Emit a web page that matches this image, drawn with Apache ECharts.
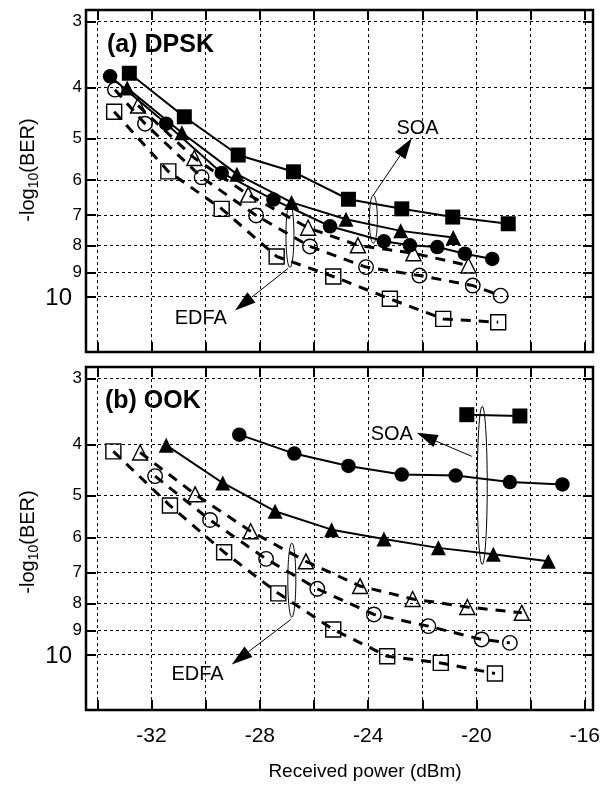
<!DOCTYPE html>
<html><head><meta charset="utf-8">
<script src="https://cdn.jsdelivr.net/npm/echarts@6/dist/echarts.min.js"></script>
<style>html,body{margin:0;padding:0;background:#fff}#c{width:607px;height:795px}</style>
</head><body><div id="c"></div><script>
// ---- data ----
const xTicks = [-34,-32,-30,-28,-26,-24,-22,-20,-18,-16];
const xLabels = [-32,-28,-24,-20,-16];
const yTicks = [3,4,5,6,7,8,9,10];

// (a) DPSK
const dpskSoaSq = [[-32.82,3.76],[-30.79,4.55],[-28.80,5.38],[-26.76,5.79],[-24.73,6.53],[-22.76,6.81],[-20.88,7.06],[-18.83,7.27]];
const dpskSoaCi = [[-33.53,3.81],[-31.46,4.69],[-29.41,5.82],[-27.50,6.54],[-25.41,7.35],[-23.42,7.85],[-22.46,7.99],[-21.45,8.05],[-20.43,8.29],[-19.42,8.48]];
const dpskSoaTr = [[-32.90,4.01],[-30.88,4.88],[-28.85,5.85],[-26.83,6.62],[-24.82,7.13],[-22.80,7.50],[-20.86,7.72]];
const dpskEdfaCi = [[-33.35,4.04],[-32.24,4.69],[-30.15,5.93],[-28.14,7.01],[-26.15,8.03],[-24.08,8.79],[-22.11,9.12],[-20.14,9.53],[-19.11,9.96]];
const dpskEdfaTr = [[-32.50,4.33],[-30.42,5.45],[-28.43,6.40],[-26.22,7.40],[-24.38,7.99],[-22.33,8.27],[-20.30,8.73]];
const dpskEdfaSq = [[-33.38,4.45],[-31.38,5.78],[-29.41,6.81],[-27.38,8.39],[-25.29,9.16],[-23.20,10.10],[-21.23,11.03],[-19.20,11.19]];

// (b) OOK
const ookSoaSq = [[-20.36,3.51],[-18.40,3.53]];
const ookSoaCi = [[-28.76,3.83],[-26.73,4.16],[-24.73,4.39],[-22.76,4.56],[-20.77,4.58],[-18.77,4.71],[-16.83,4.76]];
const ookSoaTr = [[-31.46,4.01],[-29.37,4.73],[-27.44,5.35],[-25.35,5.80],[-23.42,6.04],[-21.41,6.28],[-19.38,6.46],[-17.35,6.66]];
const ookEdfaTr = [[-32.42,4.14],[-30.39,4.97],[-28.34,5.84],[-26.30,6.66],[-24.30,7.42],[-22.36,7.85],[-20.34,8.13],[-18.33,8.34]];
const ookEdfaCi = [[-31.87,4.59],[-29.84,5.56],[-27.77,6.59],[-25.88,7.51],[-23.79,8.40],[-21.78,8.84],[-19.81,9.37],[-18.77,9.51]];
const ookEdfaSq = [[-33.41,4.12],[-31.32,5.22],[-29.32,6.40],[-27.32,7.66],[-25.29,8.97],[-23.30,10.08],[-21.32,10.38],[-19.32,10.87]];

// ---- layout ----
const X_MIN = -34.42, X_MAX = -15.70;
const Y_MIN = 2.85, Y_MAX = 12.75;
const FF = "'Liberation Sans', Arial, Helvetica, sans-serif";

function xAx(gi, pos, labels) {
  return {
    type: 'value', gridIndex: gi, position: pos, min: X_MIN, max: X_MAX,
    axisLine: {show: false},
    axisTick: {show: true, inside: true, length: 10, lineStyle: {color: '#000', width: 2}, customValues: xTicks},
    axisLabel: labels ? {show: true, customValues: xLabels, margin: 16, color: '#000', fontSize: 21, fontFamily: FF,
      formatter: v => String(Math.round(v))} : {show: false},
    splitLine: pos === 'bottom' ? {show: true, lineStyle: {color: '#000', width: 1, type: [3, 3]}} : {show: false}
  };
}
function yAx(gi, pos, labels) {
  return {
    type: 'log', logBase: 10, gridIndex: gi, position: pos, inverse: true, min: Y_MIN, max: Y_MAX,
    axisLine: {show: false},
    axisTick: {show: true, inside: true, length: 10, lineStyle: {color: '#000', width: 2}, customValues: yTicks},
    axisLabel: labels ? {show: true, customValues: yTicks, margin: 4, color: '#000', fontSize: 17, fontFamily: FF,
      formatter: v => { const r = Math.round(v); return r === 10 ? '{t|10}' : String(r); },
      rich: {t: {fontSize: 24, fontFamily: FF, color: '#000', padding: [4, 10, 0, 0]}}} : {show: false},
    splitLine: pos === 'left' ? {show: true, lineStyle: {color: '#000', width: 1, type: [3, 3]}} : {show: false},
    minorTick: {show: false}, minorSplitLine: {show: false}
  };
}
function ser(data, xi, yi, sym, filled, dashed) {
  const size = sym === 'triangle' ? 15 : (sym === 'rect' ? 15 : 14.5);
  return {
    type: 'line', xAxisIndex: xi, yAxisIndex: yi, data: data,
    symbol: sym, symbolSize: size, showSymbol: true, showAllSymbol: true,
    lineStyle: dashed ? {color: '#000', width: 3, type: [10, 8]} : {color: '#000', width: 2},
    itemStyle: filled ? {color: '#000', borderColor: '#000', borderWidth: 0}
                      : {color: 'rgba(255,255,255,0)', borderColor: '#000', borderWidth: 1.4},
    emphasis: {disabled: true}, silent: true, animation: false
  };
}

const chart = echarts.init(document.getElementById('c'), null, {renderer: 'canvas'});
chart.setOption({
  animation: false,
  backgroundColor: '#fff',
  grid: [
    {left: 86, top: 10, width: 507, height: 342, show: true, borderColor: '#000', borderWidth: 2.5, backgroundColor: 'rgba(0,0,0,0)'},
    {left: 86, top: 367, width: 507, height: 343, show: true, borderColor: '#000', borderWidth: 2.5, backgroundColor: 'rgba(0,0,0,0)'}
  ],
  xAxis: [xAx(0, 'bottom', false), xAx(0, 'top', false), xAx(1, 'bottom', true), xAx(1, 'top', false)],
  yAxis: [yAx(0, 'left', true), yAx(0, 'right', false), yAx(1, 'left', true), yAx(1, 'right', false)],
  series: [
    ser(dpskEdfaSq, 0, 0, 'rect', false, true),
    ser(dpskEdfaCi, 0, 0, 'circle', false, true),
    ser(dpskEdfaTr, 0, 0, 'triangle', false, true),
    ser(dpskSoaSq, 0, 0, 'rect', true, false),
    ser(dpskSoaTr, 0, 0, 'triangle', true, false),
    ser(dpskSoaCi, 0, 0, 'circle', true, false),
    ser(ookEdfaSq, 2, 2, 'rect', false, true),
    ser(ookEdfaCi, 2, 2, 'circle', false, true),
    ser(ookEdfaTr, 2, 2, 'triangle', false, true),
    ser(ookSoaSq, 2, 2, 'rect', true, false),
    ser(ookSoaCi, 2, 2, 'circle', true, false),
    ser(ookSoaTr, 2, 2, 'triangle', true, false)
  ]
});

// ---- annotations (in data coordinates) ----
const annA = {soaEll: [-23.81, 7.13], soaR: [4, 24], soaArrow: [[-23.82, 6.42], [-22.39, 5.00]], soaText: [-22.18, 4.78],
              edfaEll: [-26.89, 7.65], edfaR: [4, 32], edfaArrow: [[-26.96, 8.84], [-28.92, 10.63]], edfaText: [-30.18, 11.01]};
const annB = {soaEll: [-19.79, 4.78], soaR: [5, 79], soaArrow: [[-20.18, 4.21], [-22.21, 3.80]], soaText: [-23.13, 3.83],
              edfaEll: [-26.82, 7.23], edfaR: [4, 37], edfaArrow: [[-26.86, 8.59], [-29.04, 10.45]], edfaText: [-30.30, 10.92]};

function txt(text, x, y, font, align) {
  return {type: 'text', z: 100, style: {text: text, x: x, y: y, font: font, fill: '#000',
    align: align || 'center', verticalAlign: 'middle', textAlign: align || 'center', textVerticalAlign: 'middle'}};
}
function arrow(p0, p1) {
  const dx = p1[0] - p0[0], dy = p1[1] - p0[1];
  const len = Math.sqrt(dx * dx + dy * dy);
  const ux = dx / len, uy = dy / len, nx = -uy, ny = ux;
  const L = 21, W = 6.5;
  const bx = p1[0] - ux * L, by = p1[1] - uy * L;
  return [
    {type: 'line', z: 100, shape: {x1: p0[0], y1: p0[1], x2: bx, y2: by}, style: {stroke: '#000', lineWidth: 1}},
    {type: 'polygon', z: 100, shape: {points: [[p1[0], p1[1]], [bx + nx * W, by + ny * W], [bx - nx * W, by - ny * W]]}, style: {fill: '#000'}}
  ];
}
function annot(a, xi, yi) {
  const f = {xAxisIndex: xi, yAxisIndex: yi};
  const P = p => chart.convertToPixel(f, p);
  const out = [];
  const e1 = P(a.soaEll), e2 = P(a.edfaEll);
  out.push({type: 'ellipse', z: 100, shape: {cx: e1[0], cy: e1[1], rx: a.soaR[0], ry: a.soaR[1]}, style: {fill: 'none', stroke: '#000', lineWidth: 1}});
  out.push({type: 'ellipse', z: 100, shape: {cx: e2[0], cy: e2[1], rx: a.edfaR[0], ry: a.edfaR[1]}, style: {fill: 'none', stroke: '#000', lineWidth: 1}});
  arrow(P(a.soaArrow[0]), P(a.soaArrow[1])).forEach(g => out.push(g));
  arrow(P(a.edfaArrow[0]), P(a.edfaArrow[1])).forEach(g => out.push(g));
  const t1 = P(a.soaText), t2 = P(a.edfaText);
  out.push(txt('SOA', t1[0], t1[1], '20px ' + FF));
  out.push(txt('EDFA', t2[0], t2[1], '20px ' + FF));
  return out;
}
function yTitle(cx, cy) {
  return {type: 'text', z: 100, x: cx, y: cy, rotation: Math.PI / 2,
    style: {text: '{m|-log}{s|10}{m|(BER)}', x: 0, y: 0, fill: '#000',
      align: 'center', verticalAlign: 'middle', textAlign: 'center', textVerticalAlign: 'middle',
      rich: {m: {fontSize: 20, fontFamily: FF, color: '#000'},
             s: {fontSize: 14, fontFamily: FF, color: '#000', padding: [12, 0, 0, 0]}}}};
}

const graphics = [].concat(
  annot(annA, 0, 0),
  annot(annB, 2, 2),
  [txt('(a) DPSK', 107, 45, 'bold 25px ' + FF, 'left'),
   txt('(b) OOK', 105, 401, 'bold 25px ' + FF, 'left'),
   txt('Received power (dBm)', 365, 772, '19px ' + FF),
   yTitle(28, 170), yTitle(28, 542)]
);
chart.setOption({graphic: {elements: graphics}});
</script></body></html>
